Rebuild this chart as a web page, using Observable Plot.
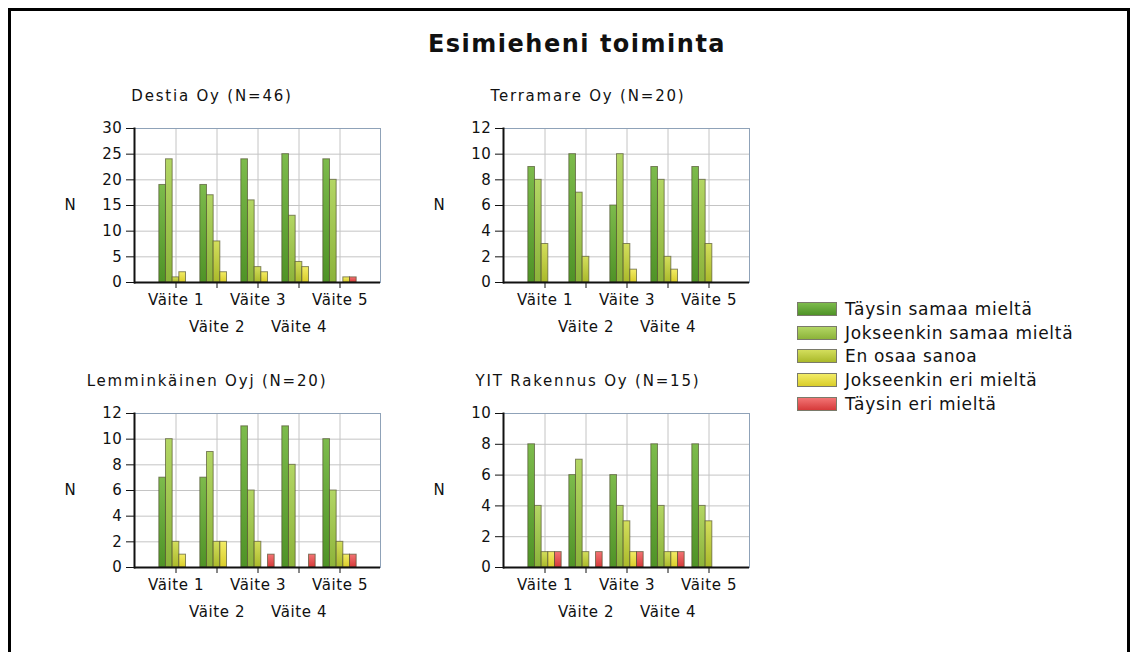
<!DOCTYPE html>
<html><head><meta charset="utf-8">
<script src="https://cdn.jsdelivr.net/npm/d3@7"></script>
<script src="https://cdn.jsdelivr.net/npm/@observablehq/plot@0.6"></script>
<style>
body{margin:0;background:#fff;font-family:"DejaVu Sans",Verdana,sans-serif;color:#111;}
#root{position:relative;width:1138px;height:652px;overflow:hidden;}
#border{position:absolute;left:8px;top:8px;width:1116px;height:700px;border:3px solid #000;}
.title{position:absolute;left:277px;width:600px;top:30px;text-align:center;font-weight:bold;font-size:24px;letter-spacing:1.5px;}
.ptitle{position:absolute;width:360px;text-align:center;font-size:15px;letter-spacing:1.8px;}
.panel{position:absolute;}
#legend{position:absolute;left:797px;top:297px;font-size:17px;letter-spacing:0.7px;}
.row{height:23.8px;display:flex;align-items:center;}
.sw{width:38px;height:12px;border:1px solid #7a7a6a;margin-right:8px;}
</style></head><body>
<div id="root"><div id="border"></div></div>
<svg width="0" height="0" style="position:absolute">
<defs id="gdefs"></defs>
</svg>
<script>
const chartTitle = "Esimieheni toiminta";
const statements = ["Väite 1", "Väite 2", "Väite 3", "Väite 4", "Väite 5"];
const seriesNames = ["Täysin samaa mieltä", "Jokseenkin samaa mieltä", "En osaa sanoa", "Jokseenkin eri mieltä", "Täysin eri mieltä"];
const companies = ["Destia Oy (N=46)", "Terramare Oy (N=20)", "Lemminkäinen Oyj (N=20)", "YIT Rakennus Oy (N=15)"];
// rows = statements, columns = series
const destia = [[19, 24, 1, 2, 0], [19, 17, 8, 2, 0], [24, 16, 3, 2, 0], [25, 13, 4, 3, 0], [24, 20, 0, 1, 1]];
const terramare = [[9, 8, 3, 0, 0], [10, 7, 2, 0, 0], [6, 10, 3, 1, 0], [9, 8, 2, 1, 0], [9, 8, 3, 0, 0]];
const lemminkainen = [[7, 10, 2, 1, 0], [7, 9, 2, 2, 0], [11, 6, 2, 0, 1], [11, 8, 0, 0, 1], [10, 6, 2, 1, 1]];
const yit = [[8, 4, 1, 1, 1], [6, 7, 1, 0, 1], [6, 4, 3, 1, 1], [8, 4, 1, 1, 1], [8, 4, 3, 0, 0]];
const destiaTicks = [0, 5, 10, 15, 20, 25, 30];
const terramareTicks = [0, 2, 4, 6, 8, 10, 12];
const lemminkainenTicks = [0, 2, 4, 6, 8, 10, 12];
const yitTicks = [0, 2, 4, 6, 8, 10];
const topColors = ["#7dbb4c", "#b3d664", "#d3de5c", "#f2ec66", "#f27474"];
const bottomColors = ["#4f9327", "#8cb33a", "#aab92a", "#d9cd2a", "#d63a3a"];

// gradients
const defs = d3.select("#gdefs");
topColors.forEach((c, i) => {
  const g = defs.append("linearGradient").attr("id", "grad" + i).attr("x1", 0).attr("y1", 0).attr("x2", 0).attr("y2", 1);
  g.append("stop").attr("offset", "0%").attr("stop-color", c);
  g.append("stop").attr("offset", "100%").attr("stop-color", bottomColors[i]);
});

const root = document.getElementById("root");
const t = document.createElement("div");
t.className = "title"; t.textContent = chartTitle; root.appendChild(t);

function panel(values, ticks) {
  const data = [];
  values.forEach((row, i) => row.forEach((v, s) => data.push({statement: statements[i], series: s, value: v})));
  const bw = 41, w = 6.67, off = (bw - 5 * w) / 2;
  const bars = seriesNames.map((name, s) => Plot.barY(data.filter(d => d.series === s && d.value > 0), {
    x: "statement", y: "value", fill: `url(#grad${s})`, stroke: "#4d4d2c", strokeOpacity: 0.65, strokeWidth: 1,
    insetLeft: off + s * w, insetRight: bw - off - (s + 1) * w
  }));
  return Plot.plot({
    width: 340, height: 235, marginLeft: 84, marginRight: 10, marginTop: 23, marginBottom: 58,
    style: {fontFamily: "DejaVu Sans, Verdana, sans-serif", fontSize: "15px", letterSpacing: "0.6px", color: "#111", background: "transparent", overflow: "visible"},
    x: {type: "band", domain: statements, paddingInner: 0, paddingOuter: 0.5, axis: null},
    y: {domain: [0, ticks[ticks.length - 1]], axis: null},
    marks: [
      Plot.gridX(statements, {stroke: "#c4c4c4", strokeOpacity: 1}),
      Plot.gridY(ticks, {stroke: "#c4c4c4", strokeOpacity: 1}),
      Plot.frame({stroke: "#8fa2b8"}),
      ...bars,
      Plot.axisY(ticks, {tickSize: 8, tickPadding: 4, fontSize: 15, label: null}),
      Plot.axisX(statements.filter((d, i) => i % 2 === 0), {tickSize: 6, tickPadding: 6, fontSize: 15, label: null}),
      Plot.axisX(statements.filter((d, i) => i % 2 === 1), {tickSize: 6, tickPadding: 33, fontSize: 15, label: null}),
      Plot.ruleY([0], {stroke: "#111", strokeWidth: 2}),
      Plot.frame({anchor: "left", stroke: "#111", strokeWidth: 2}),
      Plot.text(["N"], {frameAnchor: "left", dx: -70, fontSize: 15})
    ]
  });
}

const panels = [
  {vals: destia, ticks: destiaTicks, left: 50, top: 105, tx: 32, ty: 87},
  {vals: terramare, ticks: terramareTicks, left: 419, top: 105, tx: 408, ty: 87},
  {vals: lemminkainen, ticks: lemminkainenTicks, left: 50, top: 390, tx: 27, ty: 372},
  {vals: yit, ticks: yitTicks, left: 419, top: 390, tx: 408, ty: 372}
];
panels.forEach((p, i) => {
  const svg = panel(p.vals, p.ticks);
  svg.classList.add("panel");
  svg.style.left = p.left + "px"; svg.style.top = p.top + "px";
  root.appendChild(svg);
  const pt = document.createElement("div");
  pt.className = "ptitle"; pt.textContent = companies[i];
  pt.style.left = p.tx + "px"; pt.style.top = p.ty + "px";
  root.appendChild(pt);
});

const legend = document.createElement("div");
legend.id = "legend";
seriesNames.forEach((n, i) => {
  const r = document.createElement("div"); r.className = "row";
  const sw = document.createElement("div"); sw.className = "sw";
  sw.style.background = `linear-gradient(${topColors[i]}, ${bottomColors[i]})`;
  const tx = document.createElement("span"); tx.textContent = n;
  r.appendChild(sw); r.appendChild(tx); legend.appendChild(r);
});
root.appendChild(legend);
</script>
</body></html>
